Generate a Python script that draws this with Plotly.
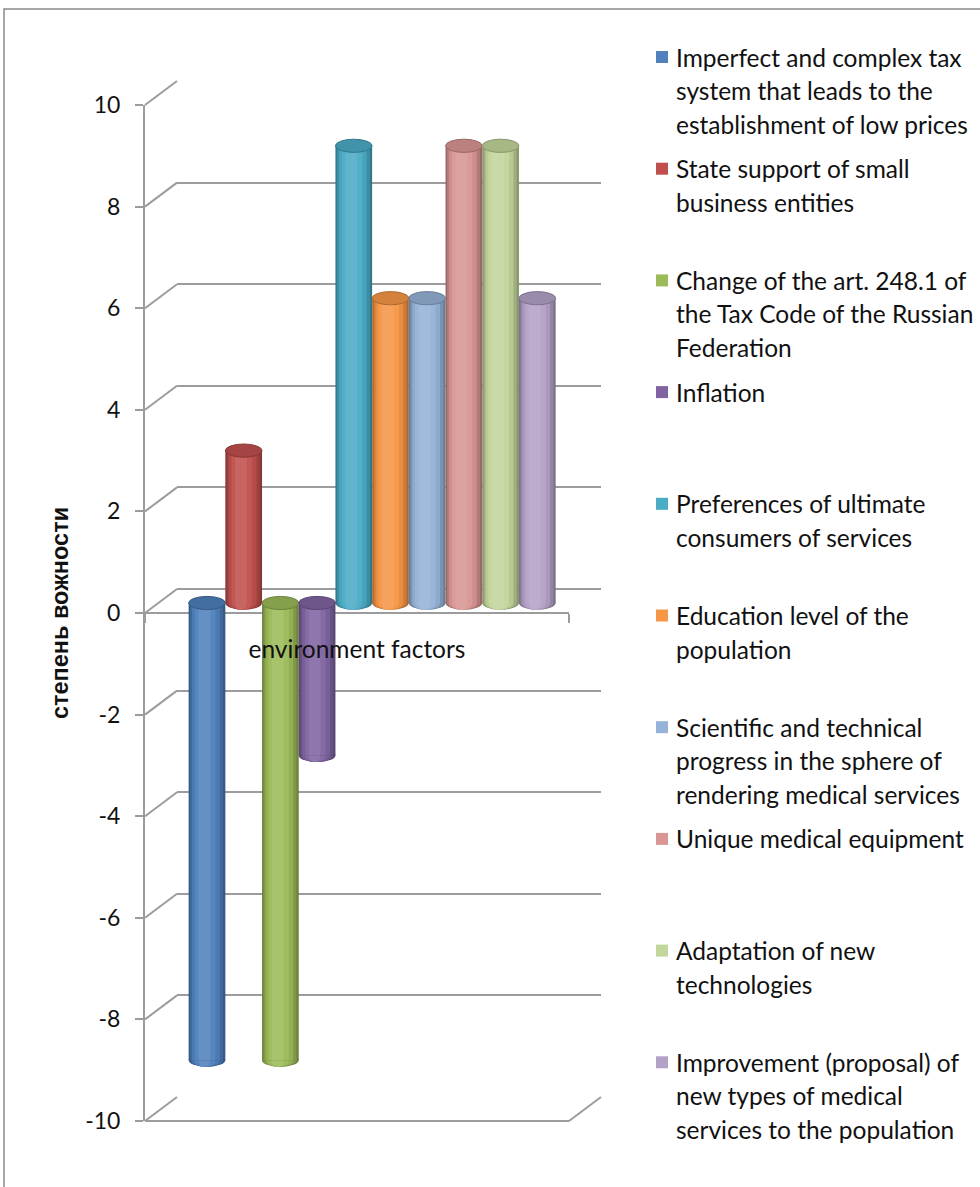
import plotly.graph_objects as go

# ---------------- data ----------------
series_names = [
    "Imperfect and complex tax system that leads to the establishment of low prices",
    "State support of small business entities",
    "Change of the art. 248.1 of the Tax Code of the Russian Federation",
    "Inflation",
    "Preferences of ultimate consumers of services",
    "Education level of the population",
    "Scientific and technical progress in the sphere of rendering medical services",
    "Unique medical equipment",
    "Adaptation of new technologies",
    "Improvement (proposal) of new types of medical services to the population",
]
legend_lines = [
    ["Imperfect and complex tax", "system that leads to the", "establishment of low prices"],
    ["State support of small", "business entities"],
    ["Change of the art. 248.1 of", "the Tax Code of the Russian", "Federation"],
    ["Inflation"],
    ["Preferences of ultimate", "consumers of services"],
    ["Education level of the", "population"],
    ["Scientific and technical", "progress in the sphere of", "rendering medical services"],
    ["Unique medical equipment"],
    ["Adaptation of new", "technologies"],
    ["Improvement (proposal) of", "new types of medical", "services to the population"],
]
values = [-9, 3, -9, -3, 9, 6, 6, 9, 9, 6]
colors = ["#4F81BD", "#C0504D", "#9BBB59", "#8064A2", "#4BACC6",
          "#F79646", "#95B3D7", "#D99694", "#C3D69B", "#B3A2C7"]
y_ticks = [-10, -8, -6, -4, -2, 0, 2, 4, 6, 8, 10]
y_tick_labels = [str(v) for v in y_ticks]
category_label = "environment factors"
y_title = "степень вожности"

# ---------------- helpers ----------------
W, H = 980, 1187
FONT = "Lato"
GRID = "#9c9c9c"
TXT = "#111111"


def px(x):
    return x / W


def py(y):
    return 1 - y / H


def hex2rgb(c):
    c = c.lstrip("#")
    return [int(c[i:i + 2], 16) for i in (0, 2, 4)]


def shade(c, f):
    r = hex2rgb(c)
    if f <= 1:
        r = [int(v * f) for v in r]
    else:
        t = f - 1
        r = [int(v + (255 - v) * t) for v in r]
    return "rgb(%d,%d,%d)" % tuple(r)


# plane geometry (pixels)
FX0, FX1, FYT, FYB = 145, 569, 105, 1121      # front plane
BDX, BDY = 32, -24                             # back plane offset
MDX, MDY = 16, -10                             # bar plane offset
Y0_FRONT = FYT + (FYB - FYT) / 2               # pixel of value 0 on front plane


def yfront(v):
    return FYB - (v - y_ticks[0]) / (y_ticks[-1] - y_ticks[0]) * (FYB - FYT)


fig = go.Figure()

# empty helper traces so that the back-wall and front-axis subplots get drawn
fig.add_trace(go.Scatter(x=[], y=[], xaxis="x", yaxis="y", showlegend=False, hoverinfo="skip"))
fig.add_trace(go.Scatter(x=[], y=[], xaxis="x2", yaxis="y2", showlegend=False, hoverinfo="skip"))

# ---------------- bars (bar plane, axis x3/y3) ----------------
layers = [  # (width, offset, shade factor)
    (1.00, 0.00, 0.70),
    (0.90, -0.01, 0.82),
    (0.76, -0.03, 0.95),
    (0.56, -0.05, 1.04),
    (0.32, -0.07, 1.12),
]
xs = list(range(len(values)))
for w, off, f in layers:
    fig.add_trace(go.Bar(
        x=[i + off for i in xs], y=values, width=w,
        marker=dict(color=[shade(c, f) for c in colors], line=dict(width=0)),
        xaxis="x3", yaxis="y3", showlegend=False, hoverinfo="skip",
    ))

shapes = []
cap_h = 0.13
for i, (v, c) in enumerate(zip(values, colors)):
    bottom = min(v, 0)
    top = max(v, 0)
    for w, off, f in layers:
        shapes.append(dict(type="circle", xref="x3", yref="y3", layer="between",
                           x0=i + off - w / 2, x1=i + off + w / 2,
                           y0=bottom - cap_h, y1=bottom + cap_h,
                           fillcolor=shade(c, f), line=dict(width=0)))
    shapes.append(dict(type="circle", xref="x3", yref="y3", layer="above",
                       x0=i - 0.5, x1=i + 0.5, y0=top - cap_h, y1=top + cap_h,
                       fillcolor=shade(c, 0.86), line=dict(color=shade(c, 0.7), width=1)))

# ---------------- 3D frame decorations ----------------
for v in y_ticks:
    shapes.append(dict(type="line", xref="paper", yref="paper", layer="below",
                       x0=px(FX0), y0=py(yfront(v)),
                       x1=px(FX0 + BDX), y1=py(yfront(v) + BDY),
                       line=dict(color=GRID, width=2)))
shapes.append(dict(type="line", xref="paper", yref="paper", layer="below",
                   x0=px(FX0), y0=py(yfront(y_ticks[0])), x1=px(FX1), y1=py(yfront(y_ticks[0])),
                   line=dict(color=GRID, width=2)))
shapes.append(dict(type="line", xref="paper", yref="paper", layer="below",
                   x0=px(FX1), y0=py(yfront(y_ticks[0])),
                   x1=px(FX1 + BDX), y1=py(yfront(y_ticks[0]) + BDY),
                   line=dict(color=GRID, width=2)))

# outer chart border
shapes.append(dict(type="rect", xref="paper", yref="paper",
                   x0=px(4), y0=-0.02, x1=1.02, y1=py(9),
                   line=dict(color="#8a8a8a", width=1.5), fillcolor="rgba(0,0,0,0)"))

# ---------------- manual legend ----------------
annotations = []
LEG_Y0, LEG_STEP, LINE_STEP = 57, 111.7, 33.5
for k, lines in enumerate(legend_lines):
    y_first = LEG_Y0 + k * LEG_STEP
    shapes.append(dict(type="rect", xref="paper", yref="paper",
                       x0=px(656), x1=px(668), y0=py(y_first + 6), y1=py(y_first - 6),
                       fillcolor=colors[k], line=dict(width=0)))
    for j, t in enumerate(lines):
        annotations.append(dict(xref="paper", yref="paper", x=px(674),
                                y=py(y_first + j * LINE_STEP), xanchor="left", yanchor="middle",
                                text=t, showarrow=False,
                                font=dict(family=FONT, size=24.5, color=TXT)))

fig.update_layout(
    width=W, height=H,
    margin=dict(l=0, r=0, t=0, b=0, autoexpand=False),
    paper_bgcolor="white",
    plot_bgcolor="rgba(0,0,0,0)",
    barmode="overlay",
    showlegend=False,
    font=dict(family=FONT, size=22, color=TXT),
    # back plane (gridlines)
    xaxis=dict(domain=[px(FX0 + BDX), px(FX1 + BDX)], range=[0, 1], anchor="y",
               showgrid=False, zeroline=False, showline=False,
               showticklabels=False, ticks=""),
    yaxis=dict(domain=[py(FYB + BDY), py(FYT + BDY)], range=[y_ticks[0], y_ticks[-1]],
               anchor="x", tickvals=y_ticks, showgrid=True, gridcolor=GRID, gridwidth=2,
               zeroline=False, showline=False, showticklabels=False, ticks=""),
    # front plane (axes)
    xaxis2=dict(domain=[px(FX0), px(FX1)], range=[0, 1], anchor="free",
                position=py(Y0_FRONT), showgrid=False, zeroline=False,
                showline=True, linecolor=GRID, linewidth=2,
                ticks="outside", tickvals=[0, 1], ticklen=9, tickwidth=2, tickcolor=GRID,
                showticklabels=False,
                title=dict(text=category_label, standoff=18,
                           font=dict(family=FONT, size=24.5, color=TXT))),
    yaxis2=dict(domain=[py(FYB), py(FYT)], range=[y_ticks[0], y_ticks[-1]],
                anchor="x2", tickvals=y_ticks, ticktext=y_tick_labels,
                showgrid=False, zeroline=False, showline=True, linecolor=GRID, linewidth=2,
                ticks="outside", ticklen=8, tickwidth=2, tickcolor=GRID,
                ticklabelstandoff=10,
                tickfont=dict(family=FONT, size=23, color=TXT),
                title=dict(text="<b>" + y_title + "</b>", standoff=10,
                           font=dict(family="Liberation Sans", size=23.5, color=TXT))),
    # bar plane
    xaxis3=dict(domain=[px(FX0 + MDX), px(FX1 + MDX)], range=[-1.253, 10.30],
                anchor="y3", visible=False),
    yaxis3=dict(domain=[py(FYB + MDY), py(FYT + MDY)], range=[y_ticks[0], y_ticks[-1]],
                anchor="x3", visible=False),
    shapes=shapes,
    annotations=annotations,
)

fig.write_html("out.html", config={"displayModeBar": False},
               post_script="document.body.style.margin='0';")
